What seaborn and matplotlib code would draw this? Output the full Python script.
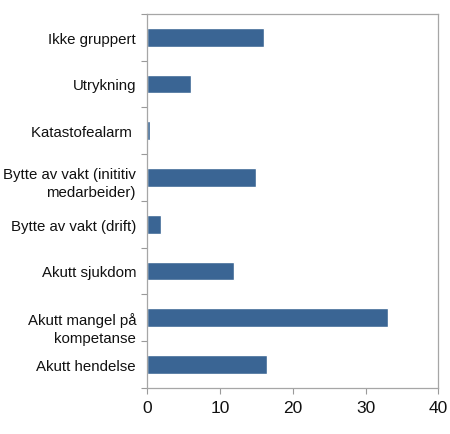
import pandas as pd
import seaborn as sns
import matplotlib.pyplot as plt
from matplotlib.ticker import FixedLocator
from matplotlib.transforms import offset_copy

# Kategorier og verdier (lest av figuren)
kategorier = [
    'Ikke gruppert',
    'Utrykning',
    'Katastofealarm ',
    'Bytte av vakt (inititiv\nmedarbeider)',
    'Bytte av vakt (drift)',
    'Akutt sjukdom',
    'Akutt mangel på\nkompetanse',
    'Akutt hendelse',
]
verdier = [16.1, 6.0, 0.4, 14.9, 1.9, 12.0, 33.1, 16.5]
x_ticks = [0, 10, 20, 30, 40]

df = pd.DataFrame({'Kategori': kategorier, 'Verdi': verdier})

sns.set_theme(style="white")
plt.rcParams['font.family'] = ['Liberation Sans', 'DejaVu Sans']

fig = plt.figure(figsize=(4.5, 4.35), dpi=100)
ax = fig.add_axes([0.327, 0.106, 0.647, 0.860])

sns.barplot(data=df, x='Verdi', y='Kategori', color='#3a6594',
            width=0.4, saturation=1, ax=ax, orient='h')

ax.set_xlim(0, 40)
ax.set_ylim(len(kategorier) - 0.5, -0.5)
ax.set_xticks(x_ticks)
ax.set_xlabel('')
ax.set_ylabel('')

# Streker mellom kategoriene på y-aksen
ax.yaxis.set_minor_locator(FixedLocator([i - 0.5 for i in range(len(kategorier) + 1)]))
ax.tick_params(axis='y', which='major', length=0, pad=8, labelsize=10.8, labelcolor='#111111')
ax.tick_params(axis='y', which='minor', left=True, length=4, width=0.8, color='#9a9a9a')
ax.tick_params(axis='x', bottom=True, length=4, width=0.8, color='#9a9a9a',
               labelsize=12.5, labelcolor='#111111', pad=5)

# Etiketter på flere linjer
for lbl in ax.get_yticklabels():
    txt = lbl.get_text()
    if '\n' in txt:
        lbl.set_linespacing(1.35)
        if txt.startswith('Akutt mangel'):
            # første linje på høyde med søylen
            lbl.set_va('top')
            lbl.set_transform(offset_copy(lbl.get_transform(), fig=fig, y=6, units='dots'))
        else:
            lbl.set_transform(offset_copy(lbl.get_transform(), fig=fig, y=-2, units='dots'))

for s in ax.spines.values():
    s.set_color('#a6a6a6')
    s.set_linewidth(0.9)

fig.savefig('out.png', dpi=100)
